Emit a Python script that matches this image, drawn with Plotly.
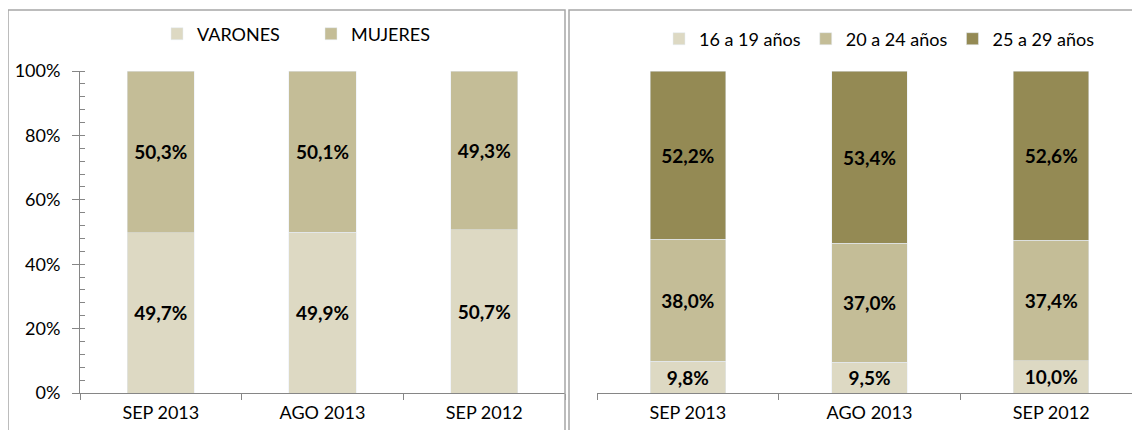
import plotly.graph_objects as go

categories = ["SEP 2013", "AGO 2013", "SEP 2012"]

# Left chart: by sex (%)
varones = [49.7, 49.9, 50.7]
mujeres = [50.3, 50.1, 49.3]

# Right chart: by age group (%)
edad_16_19 = [9.8, 9.5, 10.0]
edad_20_24 = [38.0, 37.0, 37.4]
edad_25_29 = [52.2, 53.4, 52.6]

y_ticks = [0, 20, 40, 60, 80, 100]
y_tick_labels = ["0%", "20%", "40%", "60%", "80%", "100%"]

C1, C2, C3 = "#DDD9C3", "#C4BD97", "#948A54"
FONT = "Lato"
W, H = 1140, 430
OFF = 8  # page body margin offset in the browser


def px(x):
    return (x - OFF) / W


def py(y):
    return 1 - (y - OFF) / H


def lab(vals):
    return [f"{v:.1f}%".replace(".", ",") for v in vals]


fig = go.Figure()

bar_common = dict(
    textposition="inside", insidetextanchor="middle", textangle=0,
    constraintext="none",
    textfont=dict(family=FONT, size=19, color="black", weight="bold"),
    hoverinfo="skip",
)

fig.add_trace(go.Bar(x=categories, y=varones, name="VARONES", marker_color=C1,
                     text=lab(varones), xaxis="x", yaxis="y", legend="legend", **bar_common))
fig.add_trace(go.Bar(x=categories, y=mujeres, name="MUJERES", marker_color=C2,
                     text=lab(mujeres), xaxis="x", yaxis="y", legend="legend", **bar_common))

fig.add_trace(go.Bar(x=categories, y=edad_16_19, name="16 a 19 años", marker_color=C1,
                     text=lab(edad_16_19), xaxis="x2", yaxis="y2", legend="legend2", **bar_common))
fig.add_trace(go.Bar(x=categories, y=edad_20_24, name="20 a 24 años", marker_color=C2,
                     text=lab(edad_20_24), xaxis="x2", yaxis="y2", legend="legend2", **bar_common))
fig.add_trace(go.Bar(x=categories, y=edad_25_29, name="25 a 29 años", marker_color=C3,
                     text=lab(edad_25_29), xaxis="x2", yaxis="y2", legend="legend2", **bar_common))

AX = "#868686"
y_dom = [py(393), py(71)]

xaxis_common = dict(
    showline=True, linecolor=AX, linewidth=1, ticks="outside", ticklen=6,
    tickcolor=AX, tickson="boundaries", showgrid=False, zeroline=False,
    ticklabelstandoff=3,
    tickfont=dict(family=FONT, size=18, color="black"), fixedrange=True,
)

fig.update_layout(
    width=W, height=H,
    margin=dict(l=0, r=0, t=0, b=0, autoexpand=False),
    paper_bgcolor="white", plot_bgcolor="rgba(0,0,0,0)",
    barmode="stack", bargap=0.585,
    showlegend=True,
    xaxis=dict(domain=[px(80), px(565)], anchor="y", **xaxis_common),
    yaxis=dict(domain=y_dom, anchor="x", range=[0, 100], tickvals=y_ticks,
               ticktext=y_tick_labels, showline=True, linecolor=AX, linewidth=1,
               ticks="outside", ticklen=7, tickcolor=AX, showgrid=False, zeroline=False,
               ticklabelstandoff=8,
               minor=dict(dtick=4, ticks="inside", ticklen=5, tickcolor=AX, showgrid=False),
               tickfont=dict(family=FONT, size=18, color="black"), fixedrange=True),
    xaxis2=dict(domain=[px(597), px(1142)], anchor="y2", **xaxis_common),
    yaxis2=dict(domain=y_dom, anchor="x2", range=[0, 100], visible=False, fixedrange=True),
    legend=dict(orientation="h", x=px(157), xanchor="left", y=py(34), yanchor="middle",
                font=dict(family=FONT, size=18, color="black"), bgcolor="rgba(0,0,0,0)",
                traceorder="normal", entrywidth=109),
    legend2=dict(orientation="h", x=px(659), xanchor="left", y=py(39), yanchor="middle",
                 font=dict(family=FONT, size=18, color="black"), bgcolor="rgba(0,0,0,0)",
                 traceorder="normal"),
    shapes=[
        dict(type="rect", xref="paper", yref="paper", x0=px(8), x1=px(565),
             y0=-0.1, y1=py(10), line=dict(color="#A6A6A6", width=1.5)),
        dict(type="rect", xref="paper", yref="paper", x0=px(569), x1=1.05,
             y0=-0.1, y1=py(10), line=dict(color="#A6A6A6", width=1.5)),
    ],
)

fig.write_html("out.html")
